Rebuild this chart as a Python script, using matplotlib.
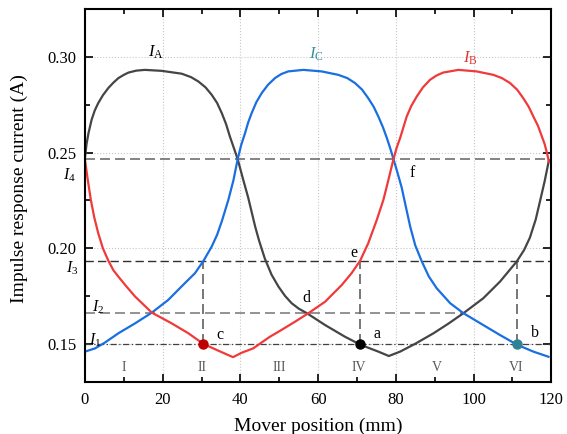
import matplotlib
matplotlib.use('Agg')
import matplotlib.pyplot as plt
from matplotlib.ticker import MultipleLocator, FormatStrFormatter

plt.rcParams['font.family'] = ['Liberation Serif', 'DejaVu Serif']
plt.rcParams['mathtext.fontset'] = 'custom'
plt.rcParams['mathtext.rm'] = 'Liberation Serif'
plt.rcParams['mathtext.it'] = 'Liberation Serif:italic'

# Phase currents
xa = [0, 0.4, 0.9, 1.7, 2.5, 3.4, 4.6, 6.0, 7.3, 8.6, 10.0, 11.2, 13.2, 15.4, 19.7,
      24.9, 27.3, 29.2, 31.0, 32.6, 34.0, 35.2, 36.3, 37.3, 38.3, 39.3,
      40.7, 42.0, 43.8, 44.8, 46.3, 48.0, 49.8, 51.5, 53.2, 55.0, 57.1, 61.8, 66.9,
      71.0, 75.5, 78.2, 81.1, 84.9, 89.7, 93.5, 97.4, 102.5, 106.8, 111.1, 113.0,
      114.5, 116.0, 117.1, 118.3, 119.4]
ia = [0.2475, 0.2545, 0.2602, 0.2672, 0.2720, 0.2759, 0.2800, 0.2838, 0.2866, 0.2890,
      0.2907, 0.2919, 0.2929, 0.2933, 0.2928, 0.2913, 0.2895, 0.2872, 0.2842, 0.2803,
      0.2760, 0.2707, 0.2650, 0.2584, 0.2525, 0.2466,
      0.2360, 0.2265, 0.2113, 0.2040, 0.1945, 0.1862, 0.1799, 0.1750, 0.1712, 0.1684,
      0.1660, 0.1598, 0.1537, 0.1494, 0.1459, 0.1436, 0.1459, 0.1499, 0.1555, 0.1605,
      0.1660, 0.1738, 0.1825, 0.1930, 0.1990, 0.2055, 0.2150, 0.2245, 0.2350, 0.2460]

xc = [0, 2.6, 5.1, 8.6, 12.9, 17.2, 21.4, 25.7, 28.3, 30.5, 32.6, 34.0, 35.2, 36.9,
      38.2, 39.3, 40.2, 41.2, 42.0, 42.9, 44.1, 45.5, 47.1, 48.9, 50.5, 52.3, 56.2,
      60.9, 65.2, 67.5, 69.5, 71.3, 72.9, 74.3, 75.5, 76.7, 77.7, 78.6, 79.4, 80.5,
      81.5, 82.6, 83.7, 85.0, 86.7, 88.5, 90.5, 94.0, 97.4, 102.5, 106.8, 111.3,
      115.4, 119.3]
ic = [0.1459, 0.1476, 0.1506, 0.1555, 0.1607, 0.1663, 0.1729, 0.1817, 0.1869, 0.1934,
      0.2008, 0.2070, 0.2140, 0.2253, 0.2355, 0.2466, 0.2540, 0.2602, 0.2658, 0.2707,
      0.2764, 0.2812, 0.2855, 0.2890, 0.2911, 0.2925, 0.2933, 0.2925, 0.2907, 0.2890,
      0.2864, 0.2830, 0.2785, 0.2740, 0.2689, 0.2632, 0.2576, 0.2520, 0.2466, 0.2390,
      0.2318, 0.2215, 0.2113, 0.2015, 0.1930, 0.1852, 0.1791, 0.1712, 0.1660, 0.1598,
      0.1546, 0.1494, 0.1459, 0.1432]

xb = [0, 0.7, 1.5, 2.4, 3.4, 4.6, 6.0, 7.3, 8.6, 10.7, 12.9, 17.2, 22.3, 26.6, 30.5,
      34.3, 38.1, 40.3, 43.3, 47.6, 49.8, 54.1, 57.5, 61.8, 66.1, 68.6, 70.8, 72.9,
      75.1, 76.8, 78.0, 79.4, 80.2, 81.1, 82.8, 84.0, 85.4, 87.0, 88.8, 90.5, 92.2,
      96.1, 100.8, 105.1, 107.3, 109.4, 111.2, 112.8, 114.2, 115.4, 116.6, 117.6,
      118.3, 118.8, 119.4]
ib = [0.2462, 0.2360, 0.2253, 0.2160, 0.2079, 0.2000, 0.1935, 0.1885, 0.1851, 0.1799,
      0.1747, 0.1663, 0.1607, 0.1555, 0.1499, 0.1464, 0.1430, 0.1453, 0.1476, 0.1537,
      0.1563, 0.1616, 0.1660, 0.1720, 0.1808, 0.1869, 0.1934, 0.2026, 0.2148, 0.2253,
      0.2350, 0.2466, 0.2525, 0.2576, 0.2689, 0.2745, 0.2794, 0.2842, 0.2881, 0.2904,
      0.2919, 0.2933, 0.2925, 0.2907, 0.2890, 0.2864, 0.2830, 0.2785, 0.2740, 0.2689,
      0.2640, 0.2584, 0.2545, 0.2506, 0.2453]

# reference levels and switching points
levels = [0.1499, 0.1660, 0.1934, 0.2466]   # I1..I4
level_names = ['$I_1$', '$I_2$', '$I_3$', '$I_4$']
x_switch = [30.4, 70.9, 111.2]
pt_colors = ['#c00000', '#000000', '#2f8295']
sectors = ['I', 'II', 'III', 'IV', 'V', 'VI']
sector_x = [10, 30, 50, 70.5, 90.5, 111]

fig = plt.figure(figsize=(5.67, 4.34), dpi=100)
ax = fig.add_axes([0.1499, 0.1198, 0.8223, 0.8588])
ax.set_xlim(0, 120)
ax.set_ylim(0.13, 0.325)

ax.grid(True, which='major', ls=':', color='#c8c8c8', lw=0.8)
ax.set_axisbelow(True)

# helper lines
ax.axhline(levels[3], color='#707070', ls=(0, (6, 3)), lw=1.2)
ax.axhline(levels[2], color='#303030', ls=(0, (6, 3)), lw=1.0)
ax.plot([0, 97.4], [levels[1]] * 2, color='#808080', ls=(0, (6, 3)), lw=1.2)
ax.axhline(levels[0], color='#404040', ls=(0, (5, 2, 1, 2)), lw=0.9)
for xs in x_switch:
    ax.plot([xs, xs], [levels[0], levels[2]], color='#606060', ls=(0, (6, 3)), lw=1.2)

ax.plot(xa, ia, color='#454545', lw=1.6)
ax.plot(xc, ic, color='#1a6fe0', lw=1.6)
ax.plot(xb, ib, color='#f03a3a', lw=1.6)

for xs, c in zip(x_switch, pt_colors):
    ax.plot(xs, levels[0], 'o', color=c, ms=6.5, zorder=5)

ax.text(18.3, 0.3025, r'$I_\mathrm{A}$', fontsize=12, ha='center', va='center')
ax.text(59.5, 0.3012, r'$I_\mathrm{C}$', fontsize=12, ha='center', va='center', color='#3a8fa0')
ax.text(99.1, 0.2996, r'$I_\mathrm{B}$', fontsize=12, ha='center', va='center', color='#e03535')

for s, x, y in zip(['a', 'b', 'c', 'd', 'e', 'f'],
                   [75.2, 115.7, 34.7, 57.1, 69.1, 84.1],
                   [0.155, 0.1555, 0.1546, 0.1738, 0.1976, 0.2393]):
    ax.text(x, y, s, fontsize=11.5, ha='center', va='center')

for s, x in zip(sectors, sector_x):
    ax.text(x, 0.1375, s, fontsize=10, ha='center', va='center', color='#5a5a5a')

ax.text(-3.9, 0.2384, level_names[3], fontsize=11.5, ha='center', va='center', clip_on=False)
ax.text(-3.4, 0.1895, level_names[2], fontsize=11.5, ha='center', va='center', clip_on=False)
ax.text(3.4, 0.1690, level_names[1], fontsize=11.5, ha='center', va='center')
ax.text(2.6, 0.1520, level_names[0], fontsize=11.5, ha='center', va='center')

ax.xaxis.set_major_locator(MultipleLocator(20))
ax.xaxis.set_minor_locator(MultipleLocator(10))
ax.yaxis.set_major_locator(MultipleLocator(0.05))
ax.yaxis.set_minor_locator(MultipleLocator(0.025))
ax.yaxis.set_major_formatter(FormatStrFormatter('%.2f'))
ax.tick_params(which='both', direction='in', top=True, right=True, labelsize=12, width=1.2)
ax.tick_params(which='major', length=6)
ax.tick_params(which='minor', length=3.5)
ax.tick_params(axis='x', which='major', pad=7)
ax.tick_params(axis='y', which='major', pad=6)
for sp in ax.spines.values():
    sp.set_linewidth(1.5)

ax.set_xlabel('Mover position (mm)', fontsize=14)
ax.set_ylabel('Impulse response current (A)', fontsize=14)
ax.xaxis.set_label_coords(0.5, -0.095)
ax.yaxis.set_label_coords(-0.122, 0.52)

fig.savefig('out.png', dpi=100)
